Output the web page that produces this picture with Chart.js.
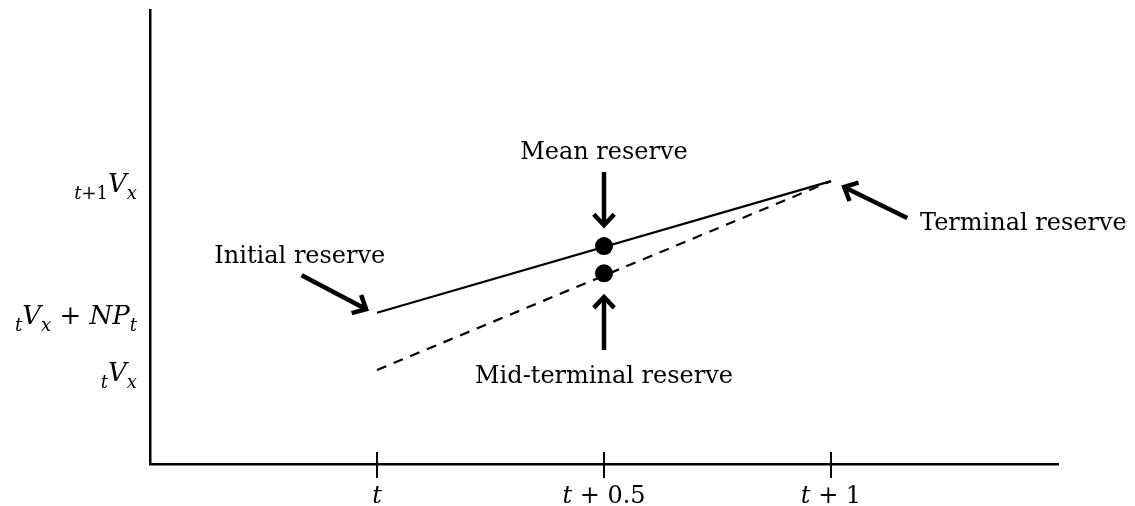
<!DOCTYPE html>
<html>
<head>
<meta charset="utf-8">
<script src="https://cdn.jsdelivr.net/npm/chart.js@4/dist/chart.umd.min.js"></script>
<style>
    html, body { margin: 0; padding: 0; background: #fff; }
</style>
</head>
<body>
<canvas id="chart" width="1135" height="506"></canvas>
<script>
// x positions: t = 0, t + 0.5 = 0.5, t + 1 = 1
const xTickValues = [0, 0.5, 1];
const xTickLabels = ['t', 't + 0.5', 't + 1'];

// reserve levels (arbitrary units, axis 0..1)
const yTickValues = [0.623, 0.333, 0.207];
const yTickLabels = ['_{t+1}V_{x}', '_{t}V_{x} + NP_{t}', '_{t}V_{x}'];

const solidX = [0, 1];
const solidY = [0.333, 0.623];
const dashedX = [0, 1];
const dashedY = [0.207, 0.623];
const dotX = [0.5, 0.5];
const dotY = [0.48, 0.42];

// annotation texts and arrows (data coordinates)
const noteText = ['Mean reserve', 'Initial reserve', 'Mid-terminal reserve', 'Terminal reserve'];
const noteX = [0.5, -0.17, 0.5, 1.196];
const noteY = [0.672, 0.443, 0.178, 0.515];
const noteAlign = ['center', 'center', 'center', 'left'];
const arrowFrom = [[0.5, 0.643], [-0.166, 0.416], [0.5, 0.251], [1.168, 0.542]];
const arrowTo = [[0.5, 0.526], [-0.024, 0.341], [0.5, 0.368], [1.029, 0.610]];

const SERIF = '"DejaVu Serif"';

function toPoints(xs, ys) {
    return xs.map((x, i) => ({ x: x, y: ys[i] }));
}

// split "_{..}" subscripts, letters are set in italic
function parseMath(str) {
    const runs = [];
    let i = 0;
    while (i < str.length) {
        let sub = false, chunk;
        if (str.startsWith('_{', i)) {
            const j = str.indexOf('}', i);
            chunk = str.slice(i + 2, j);
            sub = true;
            i = j + 1;
        } else {
            const j = str.indexOf('_{', i);
            const end = j < 0 ? str.length : j;
            chunk = str.slice(i, end);
            i = end;
        }
        for (const ch of chunk) {
            const it = /[A-Za-z]/.test(ch);
            const last = runs[runs.length - 1];
            if (last && last.sub === sub && last.it === it) last.text += ch;
            else runs.push({ text: ch, sub: sub, it: it });
        }
    }
    return runs;
}

function drawMath(ctx, str, x, y, align, size) {
    const runs = parseMath(str);
    const font = r => (r.it ? 'italic ' : '') + Math.round(r.sub ? size * 0.7 : size) + 'px ' + SERIF;
    let w = 0;
    runs.forEach(r => { ctx.font = font(r); r.w = ctx.measureText(r.text).width; w += r.w; });
    let cx = align === 'right' ? x - w : align === 'center' ? x - w / 2 : x;
    runs.forEach(r => {
        ctx.font = font(r);
        ctx.fillText(r.text, cx, y + (r.sub ? size * 0.28 : 0));
        cx += r.w;
    });
}

function drawArrow(ctx, x1, y1, x2, y2) {
    const a = Math.atan2(y2 - y1, x2 - x1);
    const h = 15, spread = 0.75;
    ctx.beginPath();
    ctx.moveTo(x1, y1);
    ctx.lineTo(x2 - Math.cos(a) * 2, y2 - Math.sin(a) * 2);
    ctx.stroke();
    ctx.beginPath();
    ctx.moveTo(x2 - h * Math.cos(a - spread), y2 - h * Math.sin(a - spread));
    ctx.lineTo(x2, y2);
    ctx.lineTo(x2 - h * Math.cos(a + spread), y2 - h * Math.sin(a + spread));
    ctx.stroke();
}

const decorations = {
    id: 'decorations',
    afterDraw(chart) {
        const ctx = chart.ctx;
        const xs = chart.scales.x, ys = chart.scales.y;
        const base = chart.chartArea.bottom;
        ctx.save();
        ctx.fillStyle = '#000';
        ctx.strokeStyle = '#000';
        ctx.textBaseline = 'alphabetic';

        // x tick marks crossing the axis, and labels
        ctx.lineWidth = 2;
        xTickValues.forEach((v, i) => {
            const px = xs.getPixelForValue(v);
            ctx.beginPath();
            ctx.moveTo(px, base - 12);
            ctx.lineTo(px, base + 14);
            ctx.stroke();
            drawMath(ctx, xTickLabels[i], px, base + 39, 'center', 24);
        });

        // y labels
        yTickValues.forEach((v, i) => {
            drawMath(ctx, yTickLabels[i], 137, ys.getPixelForValue(v) + 11, 'right', 26);
        });

        // annotation texts
        ctx.font = '24px ' + SERIF;
        noteText.forEach((t, i) => {
            ctx.textAlign = noteAlign[i];
            ctx.fillText(t, xs.getPixelForValue(noteX[i]), ys.getPixelForValue(noteY[i]));
        });

        // arrows
        ctx.lineWidth = 4.5;
        ctx.lineCap = 'butt';
        ctx.lineJoin = 'miter';
        arrowFrom.forEach((f, i) => {
            const t = arrowTo[i];
            drawArrow(ctx, xs.getPixelForValue(f[0]), ys.getPixelForValue(f[1]),
                xs.getPixelForValue(t[0]), ys.getPixelForValue(t[1]));
        });
        ctx.restore();
    }
};

const ctx = document.getElementById('chart').getContext('2d');
const chart = new Chart(ctx, {
    type: 'scatter',
    data: {
        datasets: [{
            data: toPoints(solidX, solidY),
            showLine: true,
            borderColor: '#000',
            borderWidth: 2.2,
            pointRadius: 0
        }, {
            data: toPoints(dashedX, dashedY),
            showLine: true,
            borderColor: '#000',
            borderWidth: 2.2,
            borderDash: [10, 8],
            pointRadius: 0
        }, {
            data: toPoints(dotX, dotY),
            pointRadius: 9,
            backgroundColor: '#000',
            borderWidth: 0
        }]
    },
    options: {
        responsive: false,
        animation: false,
        devicePixelRatio: 1,
        layout: { padding: { left: 150, top: 10, right: 77, bottom: 42 } },
        plugins: { legend: { display: false }, tooltip: { enabled: false } },
        scales: {
            x: {
                type: 'linear', min: -0.5, max: 1.5,
                grid: { display: false },
                ticks: { display: false },
                border: { color: '#000', width: 2.5 },
                afterFit(s) { s.height = 0; }
            },
            y: {
                min: 0, max: 1,
                grid: { display: false },
                ticks: { display: false },
                border: { color: '#000', width: 2.5 },
                afterFit(s) { s.width = 0; }
            }
        }
    },
    plugins: [decorations]
});
</script>
</body>
</html>
